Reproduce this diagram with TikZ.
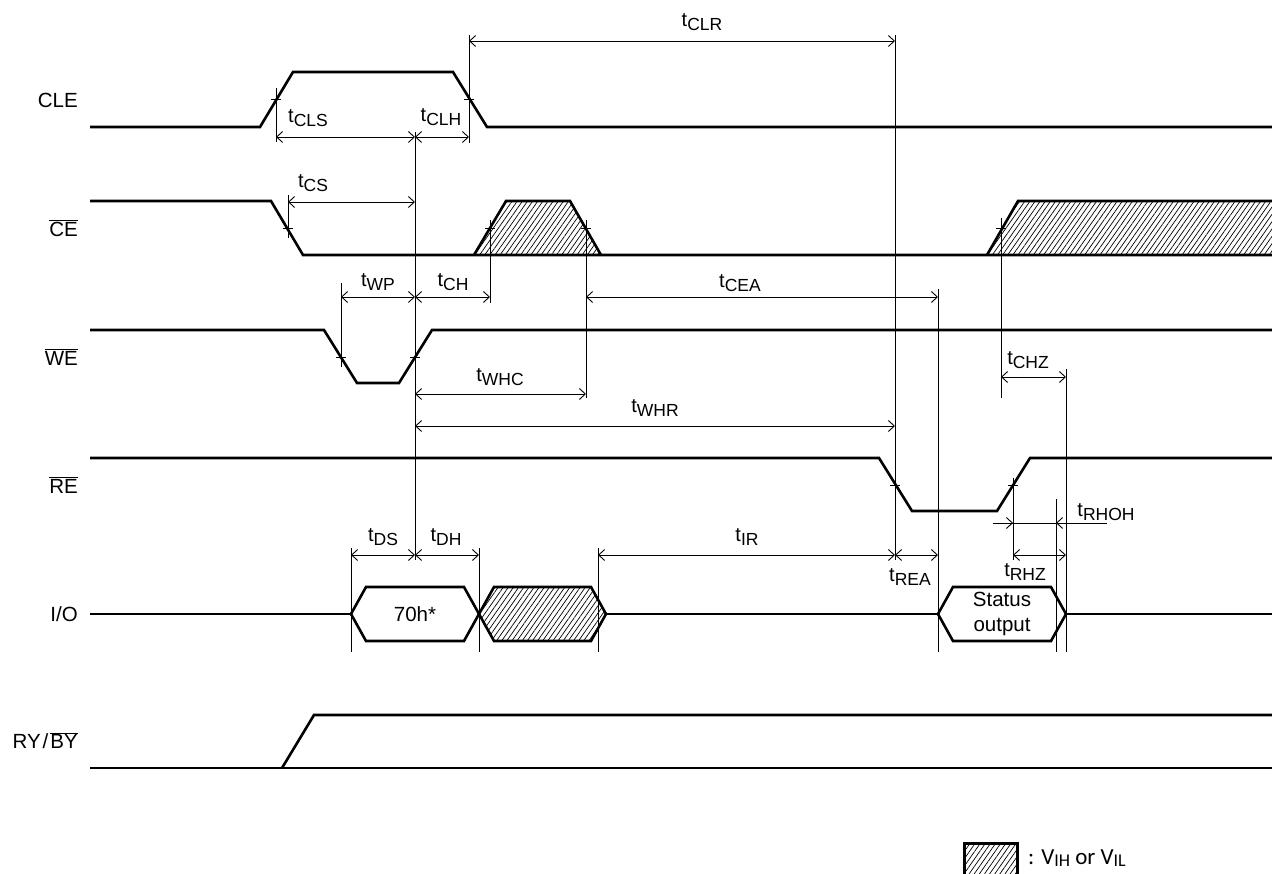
\documentclass[tikz,border=0pt]{standalone}
\usepackage{fontspec}
\setmainfont{Liberation Sans}
\newfontfamily\legfont{Carlito}
\usetikzlibrary{arrows.meta,patterns.meta}
\newcommand{\tm}[1]{{\fontsize{20}{20}\selectfont t}\raisebox{-4.5pt}{\fontsize{17.5}{17.5}\selectfont #1}}
\newcommand{\ovl}[1]{$\overline{\hbox{#1}}$}
\begin{document}
\begin{tikzpicture}[x=1pt,y=-1pt,
  sig/.style={line width=2.6pt, line join=miter},
  ref/.style={line width=0.9pt},
  dim/.style={line width=0.9pt, {Straight Barb[length=6pt,width=11pt]}-{Straight Barb[length=6pt,width=11pt]}},
  one/.style={line width=0.9pt, -{Straight Barb[length=6pt,width=11pt]}},
  hatch/.style={pattern={Lines[angle=55,distance=4.2pt,line width=0.7pt]}},
  lab/.style={font=\fontsize{20.5}{20.5}\selectfont, inner sep=0pt},
  siglab/.style={lab, anchor=east},
]
\clip (0,0) rectangle (1272,874);
\fill[white] (0,0) rectangle (1272,874);

% ---------- signal labels ----------
\node[siglab] (lcle) at (78,100) {CLE};
\node[siglab] (lce)  at (78,228) {\ovl{CE}};
\node[siglab] (lwe)  at (78,357) {\ovl{WE}};
\node[siglab] (lre)  at (78,485) {\ovl{RE}};
\node[siglab] (lio)  at (78,614) {I/O};
\node[siglab] (lry)  at (78,741) {RY\kern2pt/\kern2pt\ovl{BY}};

% ---------- hatched areas ----------
\fill[hatch] (474,255) -- (506,201) -- (570,201) -- (601,255) -- cycle;
\fill[hatch] (987,255) -- (1018,201) -- (1272,201) -- (1272,255) -- cycle;
\fill[hatch] (479,614) -- (494,587) -- (591,587) -- (606,614) -- (591,641) -- (494,641) -- cycle;

% ---------- signals ----------
% CLE
\draw[sig] (90,127) -- (260,127) -- (293,72) -- (453,72) -- (487,127) -- (1275,127);
% CE
\draw[sig] (90,201) -- (271,201) -- (303,255) -- (1275,255);
\draw[sig] (474,255) -- (506,201) -- (570,201) -- (601,255);
\draw[sig] (987,255) -- (1018,201) -- (1275,201);
% WE
\draw[sig] (90,330) -- (324,330) -- (357,383) -- (399,383) -- (432,330) -- (1275,330);
% RE
\draw[sig] (90,458) -- (879,458) -- (912,511) -- (997,511) -- (1030,458) -- (1275,458);
% I/O
\draw[sig] (90,614) -- (351,614);
\draw[sig] (351,614) -- (366,587) -- (464,587) -- (479,614) -- (464,641) -- (366,641) -- cycle;
\draw[sig] (479,614) -- (494,587) -- (591,587) -- (606,614) -- (591,641) -- (494,641) -- cycle;
\draw[sig] (606,614) -- (938,614);
\draw[sig] (938,614) -- (953,587) -- (1051,587) -- (1066,614) -- (1051,641) -- (953,641) -- cycle;
\draw[sig] (1066,614) -- (1275,614);
% RY/BY
\draw[sig] (90,768) -- (1275,768);
\draw[sig] (282,768) -- (314,715) -- (1275,715);

% ---------- reference verticals ----------
\draw[ref] (276,88) -- (276,142);
\draw[ref] (415,132) -- (415,560);
\draw[ref] (469,35) -- (469,143);
\draw[ref] (895,35) -- (895,560);
\draw[ref] (288,195) -- (288,238);
\draw[ref] (490,220) -- (490,303);
\draw[ref] (586,220) -- (586,398);
\draw[ref] (341,283) -- (341,367);
\draw[ref] (938,289) -- (938,652);
\draw[ref] (1001,218) -- (1001,398);
\draw[ref] (1066,369) -- (1066,652);
\draw[ref] (1013,478) -- (1013,560);
\draw[ref] (1056,499) -- (1056,652);
\draw[ref] (351,548) -- (351,652);
\draw[ref] (479,548) -- (479,652);
\draw[ref] (598,548) -- (598,652);

% crossing ticks
\foreach \x/\y in {276/99, 469/99, 288/228, 490/228, 586/228, 1001/228, 341/357, 415/357, 895/485, 1013/485}
  \draw[ref] ({\x-5},\y) -- ({\x+5},\y);

% ---------- dimension arrows ----------
\draw[dim] (276,137) -- (415,137);
\draw[dim] (415,137) -- (469,137);
\draw[dim] (469,41) -- (895,41);
\draw[dim] (288,202) -- (415,202);
\draw[dim] (341,297) -- (415,297);
\draw[dim] (415,297) -- (490,297);
\draw[dim] (586,297) -- (938,297);
\draw[dim] (415,394) -- (586,394);
\draw[dim] (415,426) -- (895,426);
\draw[dim] (1001,377) -- (1066,377);
\draw[dim] (351,555) -- (415,555);
\draw[dim] (415,555) -- (479,555);
\draw[dim] (598,555) -- (895,555);
\draw[dim] (895,555) -- (938,555);
\draw[dim] (1013,555) -- (1066,555);
\draw[ref] (993,523) -- (1107,523);
\draw[one] (993,523) -- (1013,523);
\draw[one] (1107,523) -- (1056,523);

% ---------- timing labels ----------
\node[lab] (tclr) at (702,22) {\tm{CLR}};
\node[lab] (tcls) at (308,118) {\tm{CLS}};
\node[lab] (tclh) at (441,117) {\tm{CLH}};
\node[lab] (tcs)  at (313,183) {\tm{CS}};
\node[lab] (twp)  at (378,282) {\tm{WP}};
\node[lab] (tch)  at (453,282) {\tm{CH}};
\node[lab] (tcea) at (740,283) {\tm{CEA}};
\node[lab] (twhc) at (500,377) {\tm{WHC}};
\node[lab] (twhr) at (655,408) {\tm{WHR}};
\node[lab] (tchz) at (1028,360) {\tm{CHZ}};
\node[lab] (tds)  at (383,537) {\tm{DS}};
\node[lab] (tdh)  at (446,537) {\tm{DH}};
\node[lab] (tir)  at (747,537) {\tm{IR}};
\node[lab] (trea) at (910,577) {\tm{REA}};
\node[lab] (trhz) at (1025,572) {\tm{RHZ}};
\node[lab] (trhoh) at (1106,512) {\tm{RHOH}};

% data labels
\node[lab] (d70) at (415,614) {70h*};
\node[lab, align=center] (dst) at (1002,614) {Status\\[5pt]output};

% ---------- legend ----------
\draw[line width=3pt, hatch] (964.5,843.5) rectangle (1017.5,890);
\node[lab, anchor=base west, font=\legfont\fontsize{23}{23}\selectfont] (leg) at (1028,864)
  {: V\raisebox{-2.5pt}{\fontsize{18}{18}\selectfont IH} or V\raisebox{-2.5pt}{\fontsize{18}{18}\selectfont IL}};
\end{tikzpicture}
\end{document}
